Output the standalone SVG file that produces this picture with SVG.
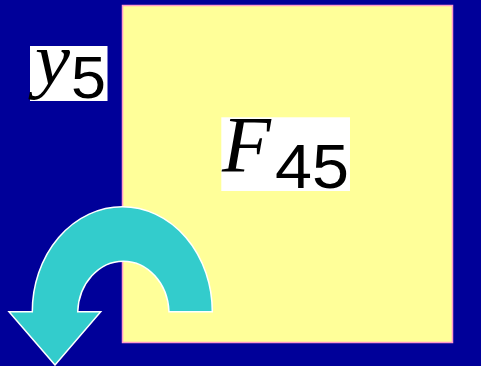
<svg xmlns="http://www.w3.org/2000/svg" width="481" height="366" viewBox="0 0 481 366">
<style>
.lbl{fill:#ffffff}
.it{font-family:"Liberation Serif",serif;font-style:italic;fill:#000}
.num{font-family:"Liberation Sans",sans-serif;fill:#000}
</style>
<rect x="0" y="0" width="481" height="366" fill="#000099"/>
<g id="block">
<rect x="122.5" y="5.5" width="330" height="337" fill="#ffff99" stroke="#ff99cc" stroke-width="1.5"/>
</g>
<g id="label-y5">
<rect class="lbl" x="30" y="46" width="77.5" height="55"/>
<text class="it" x="35" y="84" font-size="74" textLength="35" lengthAdjust="spacingAndGlyphs">y</text>
<text class="num" x="71" y="98" font-size="60" textLength="35" lengthAdjust="spacingAndGlyphs">5</text>
</g>
<g id="label-F45">
<rect class="lbl" x="221.3" y="117.3" width="128.7" height="73.7"/>
<text class="it" x="222" y="171.7" font-size="80">F</text>
<text class="num" x="275" y="188.3" font-size="63" textLength="74" lengthAdjust="spacingAndGlyphs">45</text>
</g>
<g id="connectors">
<path d="M212.3,311.7 A90,105 0 0 0 32.3,311.7 L9,311.7 L55,365 L100.7,311.7 L77.7,311.7 A45.7,53 0 0 1 169,311.7 Z" fill="#33cccc" stroke="#ffffff" stroke-width="1.5" stroke-linejoin="miter"/>
</g>
</svg>
